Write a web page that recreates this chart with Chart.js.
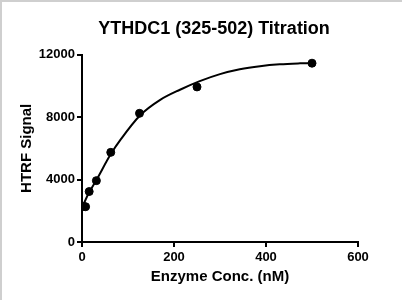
<!DOCTYPE html>
<html>
<head>
<meta charset="utf-8">
<script src="https://cdn.jsdelivr.net/npm/chart.js@4"></script>
<style>
  html, body { margin: 0; padding: 0; background: #fff; }
  #wrap { position: relative; width: 402px; height: 300px; }
  #frame { position: absolute; left: 0; top: 0; width: 402px; height: 300px; box-sizing: border-box;
           border-top: 2px solid #cfcfcf; border-left: 2px solid #cfcfcf; pointer-events: none; }
</style>
</head>
<body>
<div id="wrap">
  <canvas id="chart" width="402" height="300"></canvas>
  <div id="frame"></div>
</div>
<script>
// measured points (enzyme conc in nM, HTRF signal)
const concs = [3.9, 7.8, 15.6, 31.25, 62.5, 125, 250, 500];
const signal = [2280, 2260, 3230, 3930, 5740, 8240, 9930, 11450];

// fitted curve
const curveX = [0, 15, 31, 62, 85, 126, 170, 213, 256, 300, 343, 387, 430, 474, 500];
const curveY = [2200, 3150, 3950, 5600, 6600, 8100, 9100, 9750, 10300, 10750, 11060, 11260, 11380, 11440, 11460];

const xTicks = [0, 200, 400, 600];
const yTicks = [0, 4000, 8000, 12000];

const font = 'Liberation Sans, Arial, sans-serif';

// the title sits over the plot, not over the whole canvas
const titleShift = {
  id: 'titleShift',
  afterLayout(chart) {
    if (chart.titleBlock) {
      chart.titleBlock.left = 26;
      chart.titleBlock.right = 402;
    }
  }
};

const ctx = document.getElementById('chart');

new Chart(ctx, {
  type: 'scatter',
  data: {
    datasets: [
      {
        label: 'fit',
        data: curveX.map((x, i) => ({ x: x, y: curveY[i] })),
        showLine: true,
        borderColor: '#000',
        borderWidth: 2,
        pointRadius: 0,
        cubicInterpolationMode: 'monotone',
        fill: false
      },
      {
        label: 'data',
        data: concs.map((x, i) => ({ x: x, y: signal[i] })),
        backgroundColor: '#000',
        borderColor: '#000',
        pointRadius: 4,
        showLine: false
      }
    ]
  },
  plugins: [titleShift],
  options: {
    responsive: false,
    animation: false,
    layout: { padding: { left: 0, right: 44, top: 0, bottom: 0 } },
    plugins: {
      legend: { display: false },
      tooltip: { enabled: false },
      title: {
        display: true,
        text: 'YTHDC1 (325-502) Titration',
        color: '#000',
        font: { family: font, size: 18, weight: 'bold' },
        padding: { top: 18, bottom: 15 }
      }
    },
    scales: {
      x: {
        type: 'linear',
        min: 0, max: 600,
        afterBuildTicks: s => { s.ticks = xTicks.map(v => ({ value: v })); },
        afterFit: s => { s.height = 58; },
        border: { display: true, color: '#000', width: 2 },
        grid: { display: true, drawOnChartArea: false, drawTicks: true, tickLength: 5, color: '#000', lineWidth: 2 },
        ticks: { color: '#000', padding: 3, callback: v => String(v), font: { family: font, size: 13, weight: 'bold' } },
        title: {
          display: true,
          text: 'Enzyme Conc. (nM)',
          color: '#000',
          font: { family: font, size: 15, weight: 'bold' },
          padding: { top: 2, bottom: 14 }
        }
      },
      y: {
        type: 'linear',
        min: 0, max: 12000,
        afterBuildTicks: s => { s.ticks = yTicks.map(v => ({ value: v })); },
        afterFit: s => { s.width = 82; },
        border: { display: true, color: '#000', width: 2 },
        grid: { display: true, drawOnChartArea: false, drawTicks: true, tickLength: 5, color: '#000', lineWidth: 2 },
        ticks: { color: '#000', padding: 2, callback: v => String(v), font: { family: font, size: 13, weight: 'bold' } },
        title: {
          display: true,
          text: 'HTRF Signal',
          color: '#000',
          font: { family: font, size: 15, weight: 'bold' },
          padding: { top: 18, bottom: 4 }
        }
      }
    }
  }
});
</script>
</body>
</html>
